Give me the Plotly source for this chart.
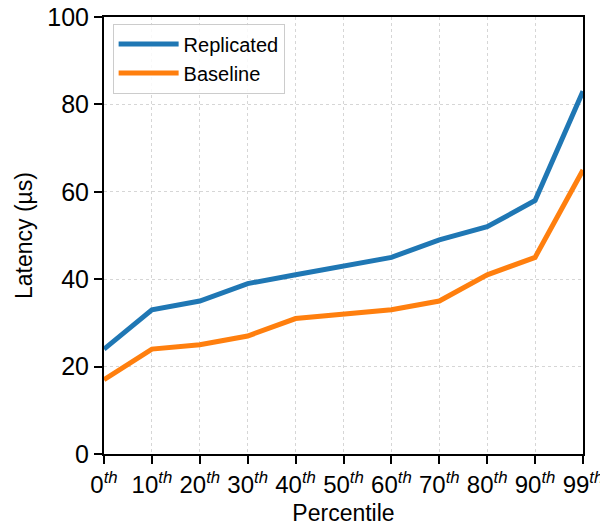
import plotly.graph_objects as go

percentiles = ["0", "10", "20", "30", "40", "50", "60", "70", "80", "90", "99"]
replicated = [24, 33, 35, 39, 41, 43, 45, 49, 52, 58, 83]
baseline = [17, 24, 25, 27, 31, 32, 33, 35, 41, 45, 65]
tick_labels = [p + "<sup><i>th</i></sup>" for p in percentiles]
xpos = list(range(len(percentiles)))

fig = go.Figure()
fig.add_trace(go.Scatter(x=xpos, y=replicated, mode="lines", name="Replicated",
                         line=dict(color="#1f77b4", width=5)))
fig.add_trace(go.Scatter(x=xpos, y=baseline, mode="lines", name="Baseline",
                         line=dict(color="#ff7f0e", width=5)))

font = "Liberation Sans, Arial, Helvetica, sans-serif"
fig.update_layout(
    width=608, height=530,
    margin=dict(l=96, r=33, t=9, b=84),
    plot_bgcolor="white", paper_bgcolor="white",
    font=dict(family=font, size=20, color="black"),
    showlegend=True,
    legend=dict(x=0.018, y=0.985, xanchor="left", yanchor="top",
                bgcolor="rgba(255,255,255,0.85)", bordercolor="#cccccc", borderwidth=1,
                font=dict(size=20), itemwidth=60, tracegroupgap=0),
    xaxis=dict(range=[0, 10], tickmode="array", tickvals=xpos, ticktext=tick_labels,
               automargin=False, ticklabeloverflow="allow",
               showline=True, linecolor="black", linewidth=2, mirror=True,
               ticks="outside", ticklen=8, tickwidth=2, tickcolor="black",
               showgrid=True, gridcolor="#d6d6d6", griddash="dot", gridwidth=1,
               zeroline=False, tickfont=dict(size=24),
               title=dict(text="Percentile", font=dict(size=23), standoff=8)),
    yaxis=dict(range=[0, 100], tickvals=[0, 20, 40, 60, 80, 100],
               automargin=False, ticklabeloverflow="allow",
               showline=True, linecolor="black", linewidth=2, mirror=True,
               ticks="outside", ticklen=8, tickwidth=2, tickcolor="black",
               showgrid=True, gridcolor="#d6d6d6", griddash="dot", gridwidth=1,
               zeroline=False, tickfont=dict(size=25),
               title=dict(text="Latency (µs)", font=dict(size=23), standoff=8)),
)

fig.write_html("out.html")
